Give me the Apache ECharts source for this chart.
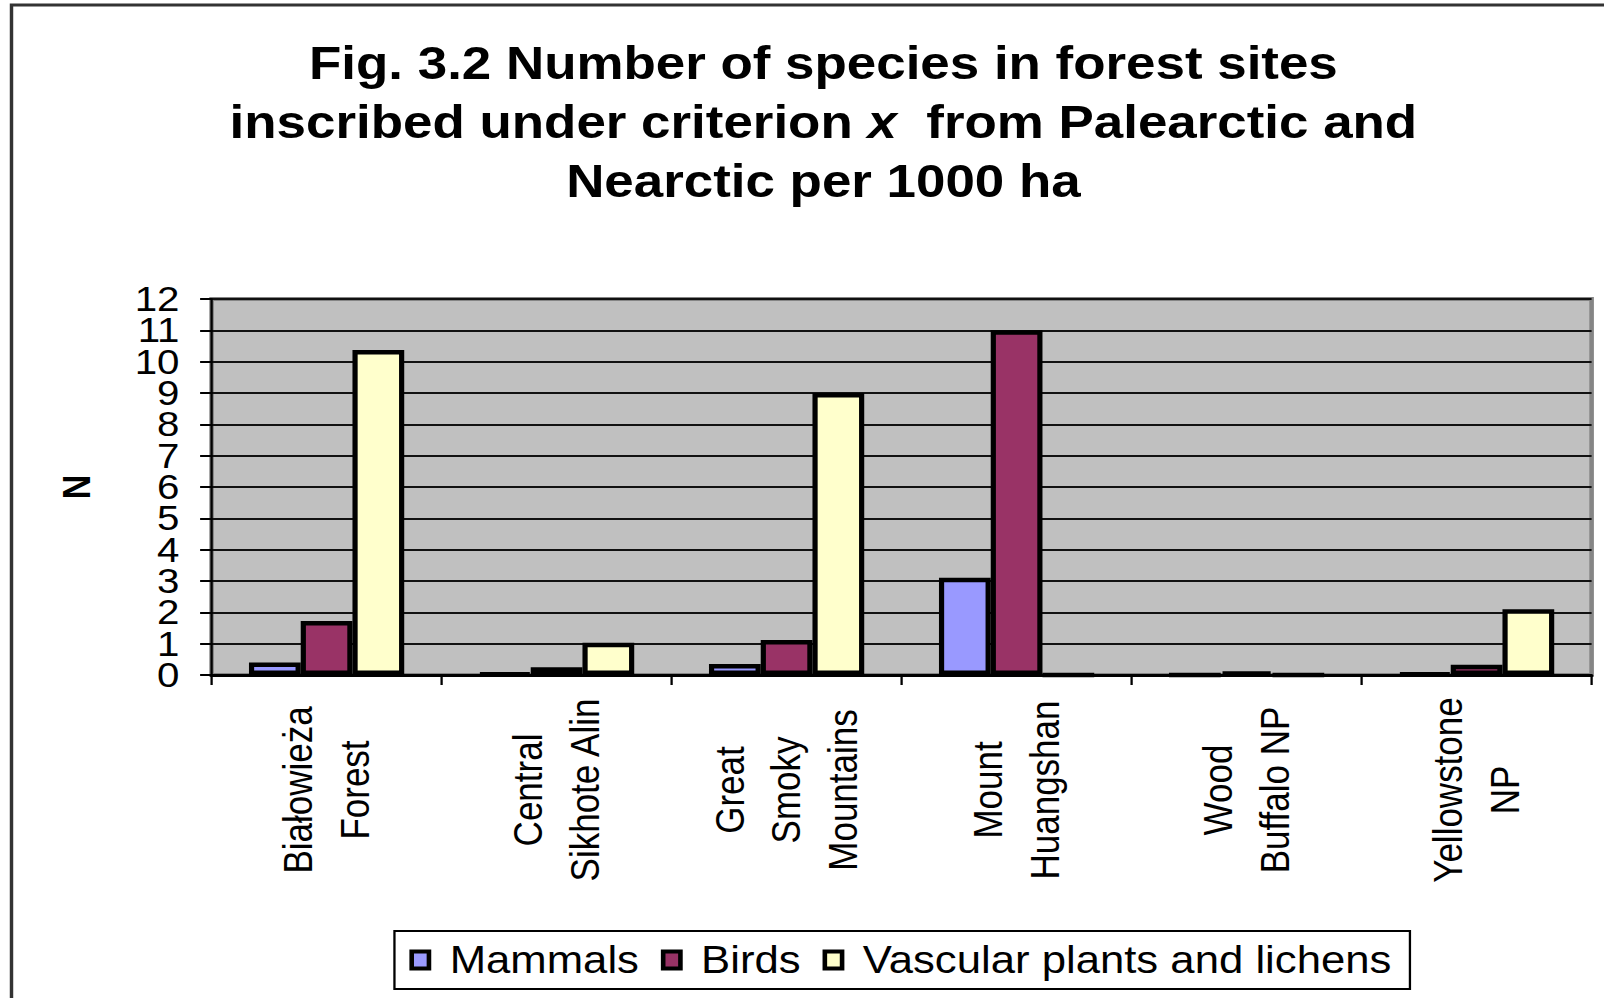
<!DOCTYPE html>
<html>
<head>
<meta charset="utf-8">
<script src="https://cdn.jsdelivr.net/npm/echarts@6/dist/echarts.min.js"></script>
<style>
  html, body { margin: 0; padding: 0; background: #fff; overflow: hidden; }
  /* the source figure is stretched sideways, so draw narrower and widen */
  #chart { width: 1395px; height: 998px; transform: scaleX(1.15); transform-origin: 0 0; }
</style>
</head>
<body>
<div id="chart"></div>
<script>
const sites = [
  'Białowieża\nForest',
  'Central\nSikhote Alin',
  'Great\nSmoky\nMountains',
  'Mount\nHuangshan',
  'Wood\nBuffalo NP',
  'Yellowstone\nNP'
];
const mammals  = [0.4, 0.05, 0.35, 3.1, 0, 0.05];
const birds    = [1.72, 0.25, 1.12, 11.0, 0.1, 0.33];
const vascular = [10.37, 1.03, 9.0, 0, 0, 2.1];
const seriesNames = ['Mammals', 'Birds', 'Vascular plants and lichens'];
const seriesColors = ['#9999ff', '#993366', '#ffffcc'];

const chart = echarts.init(document.getElementById('chart'), null, { renderer: 'svg' });

const font = 'Liberation Sans, Arial, sans-serif';

function barSeries(i, values) {
  return {
    name: seriesNames[i],
    type: 'bar',
    data: values,
    barWidth: 45,
    barGap: '0%',
    itemStyle: { color: seriesColors[i], borderColor: '#000', borderWidth: 4.5 }
  };
}

// the tick labels crowd each other, so even and odd ones sit on two stacked axes
// (otherwise echarts drops the end labels)
const labelStyle = { margin: 28, fontFamily: font, fontSize: 35, color: '#000', showMinLabel: true, showMaxLabel: true };

chart.setOption({
  animation: false,
  title: {
    text: 'Fig. 3.2 Number of species in forest sites\ninscribed under criterion {i|x}  from Palearctic and\nNearctic per 1000 ha',
    left: 711,
    top: 29,
    textAlign: 'center',
    textStyle: {
      fontFamily: font, fontSize: 46, fontWeight: 'bold', color: '#000', lineHeight: 59,
      rich: {
        i: { fontFamily: font, fontSize: 46, fontWeight: 'bold', fontStyle: 'italic', color: '#000', lineHeight: 59 }
      }
    }
  },
  graphic: [{
    type: 'rect',
    shape: { x: 10, y: 5, width: 3000, height: 3000 },
    style: { fill: 'none', stroke: '#333', lineWidth: 3 },
    silent: true
  }],
  legend: {
    left: 343,
    top: 931,
    itemWidth: 15,
    itemHeight: 17,
    itemGap: 19,
    padding: [10, 16, 10, 13],
    borderColor: '#000',
    borderWidth: 2,
    backgroundColor: '#fff',
    icon: 'rect',
    itemStyle: { borderColor: '#000', borderWidth: 4 },
    textStyle: { fontFamily: font, fontSize: 38, color: '#000', padding: [0, 0, 0, 13] }
  },
  grid: {
    left: 184,
    right: 11,
    top: 299,
    bottom: 323,
    show: true,
    backgroundColor: '#c0c0c0',
    borderColor: '#858585',
    borderWidth: 4
  },
  xAxis: {
    type: 'category',
    data: sites,
    axisLine: { lineStyle: { color: '#000', width: 3 } },
    axisTick: { show: true, length: 10, lineStyle: { color: '#000', width: 2 } },
    axisLabel: {
      interval: 0,
      rotate: 90,
      align: 'center',
      verticalAlign: 'middle',
      margin: 115,
      fontFamily: font,
      fontSize: 35,
      lineHeight: 49,
      color: '#000'
    }
  },
  yAxis: [
    {
      type: 'value',
      min: 0,
      max: 12,
      interval: 1,
      position: 'left',
      name: 'N',
      nameLocation: 'middle',
      nameGap: 100,
      nameTextStyle: { fontFamily: font, fontSize: 34, fontWeight: 'bold', color: '#000' },
      axisLine: { show: true, lineStyle: { color: '#000', width: 2 } },
      axisTick: { show: true, length: 10, lineStyle: { color: '#000', width: 2 } },
      axisLabel: Object.assign({}, labelStyle, { formatter: v => (v % 2 === 0 ? String(v) : '') }),
      splitLine: { lineStyle: { color: '#111', width: 2 } }
    },
    {
      type: 'value',
      min: 0,
      max: 12,
      interval: 1,
      position: 'left',
      axisLine: { show: false },
      axisTick: { show: false },
      axisLabel: Object.assign({}, labelStyle, { formatter: v => (v % 2 === 1 ? String(v) : '') }),
      splitLine: { show: false }
    }
  ],
  series: [
    barSeries(0, mammals),
    barSeries(1, birds),
    barSeries(2, vascular)
  ]
});
</script>
</body>
</html>
